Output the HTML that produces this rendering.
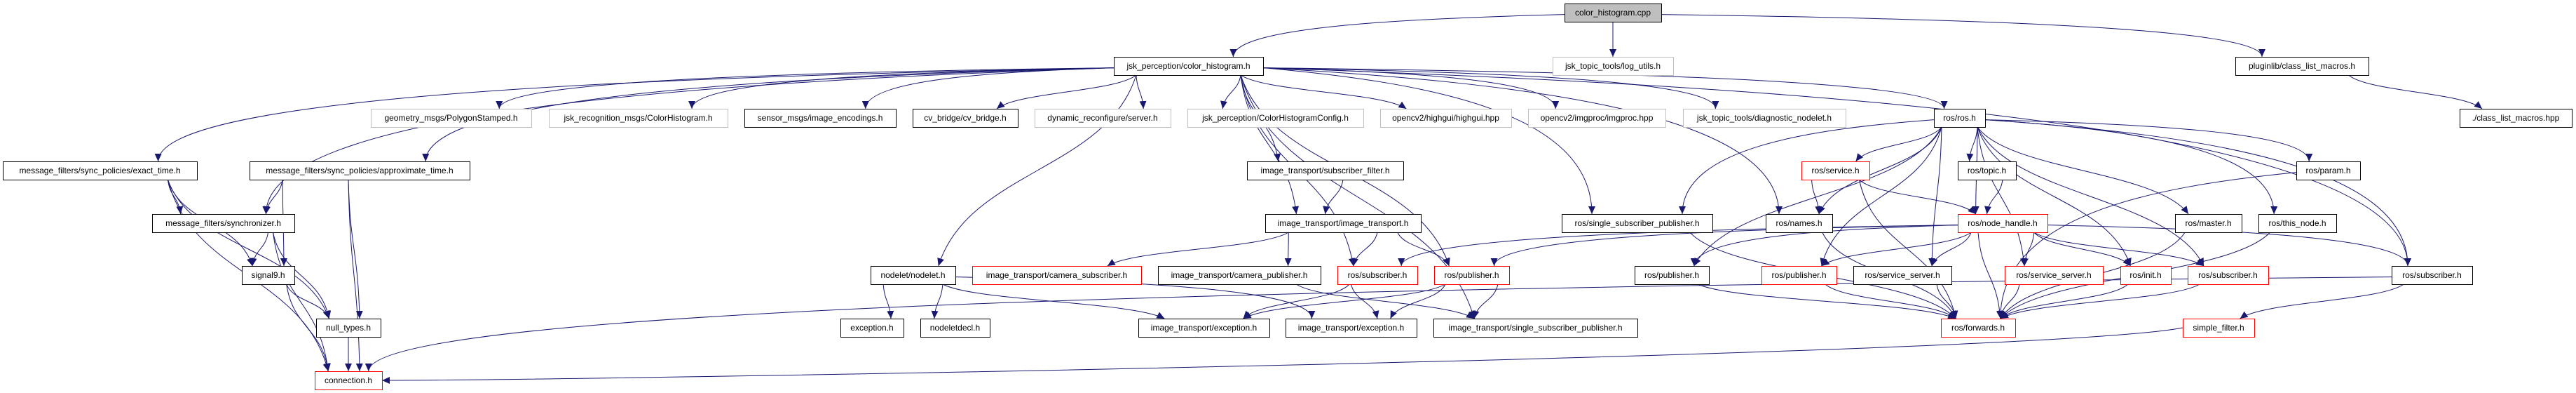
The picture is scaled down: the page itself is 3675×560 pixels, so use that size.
<!DOCTYPE html>
<html><head><meta charset="utf-8">
<style>
html,body{margin:0;padding:0;background:#fff;width:3675px;height:560px;overflow:hidden}
svg{display:block}
text{font-family:"Liberation Sans",sans-serif;font-size:12px;fill:#000}
</style></head>
<body>
<svg id="g" width="3675" height="560" viewBox="0 0 3675 560" xmlns="http://www.w3.org/2000/svg">
<defs>
<marker id="a" markerUnits="userSpaceOnUse" markerWidth="12" markerHeight="10" refX="11" refY="5" orient="auto">
<path d="M0,0 L11,5 L0,10 z" fill="#191970"/>
</marker>
</defs>
<g id="edges" fill="none" stroke="#191970" stroke-width="1"></g>
<g id="nodes"></g>
</svg>
<script>
var rowY=[5,81,155,230,305,379,454,529],H=26;
var N={
cpp:[2232,2370,0,3,"color_histogram.cpp"],
ch:[1589,1802,1,0,"jsk_perception/color_histogram.h"],
log:[2215,2387,1,1,"jsk_topic_tools/log_utils.h"],
plug:[3189,3379,1,0,"pluginlib/class_list_macros.h"],
clm:[3509,3669,2,0,"./class_list_macros.hpp"],
poly:[529,758,2,1,"geometry_msgs/PolygonStamped.h"],
jch:[783,1038,2,1,"jsk_recognition_msgs/ColorHistogram.h"],
enc:[1062,1278,2,0,"sensor_msgs/image_encodings.h"],
cvb:[1302,1452,2,0,"cv_bridge/cv_bridge.h"],
dyn:[1476,1670,2,1,"dynamic_reconfigure/server.h"],
cfg:[1694,1945,2,1,"jsk_perception/ColorHistogramConfig.h"],
hg:[1969,2156,2,1,"opencv2/highgui/highgui.hpp"],
ip:[2180,2376,2,1,"opencv2/imgproc/imgproc.hpp"],
dn:[2401,2633,2,1,"jsk_topic_tools/diagnostic_nodelet.h"],
ros:[2759,2832,2,0,"ros/ros.h"],
ex:[4,281,3,0,"message_filters/sync_policies/exact_time.h"],
ap:[356,670,3,0,"message_filters/sync_policies/approximate_time.h"],
sf:[1779,2002,3,0,"image_transport/subscriber_filter.h"],
srv:[2570,2667,3,2,"ros/service.h"],
top:[2793,2876,3,0,"ros/topic.h"],
par:[3276,3367,3,0,"ros/param.h"],
syn:[217,420,4,0,"message_filters/synchronizer.h"],
it:[1805,2027,4,0,"image_transport/image_transport.h"],
rssp:[2228,2443,4,0,"ros/single_subscriber_publisher.h"],
nam:[2519,2614,4,0,"ros/names.h"],
nh:[2793,2921,4,2,"ros/node_handle.h"],
mas:[3103,3198,4,0,"ros/master.h"],
thn:[3222,3333,4,0,"ros/this_node.h"],
sig:[345,420,5,0,"signal9.h"],
nod:[1242,1363,5,0,"nodelet/nodelet.h"],
cs:[1387,1628,5,2,"image_transport/camera_subscriber.h"],
cp:[1652,1884,5,0,"image_transport/camera_publisher.h"],
rsubr:[1908,2022,5,2,"ros/subscriber.h"],
rpubr:[2046,2153,5,2,"ros/publisher.h"],
rpubb:[2332,2438,5,0,"ros/publisher.h"],
rpubr2:[2513,2620,5,2,"ros/publisher.h"],
ssb:[2644,2784,5,0,"ros/service_server.h"],
ssr:[2860,3000,5,2,"ros/service_server.h"],
ini:[3025,3097,5,2,"ros/init.h"],
rsubr2:[3121,3236,5,2,"ros/subscriber.h"],
rsubb:[3412,3527,5,0,"ros/subscriber.h"],
nul:[451,543,6,0,"null_types.h"],
exc:[1199,1289,6,0,"exception.h"],
ndd:[1313,1412,6,0,"nodeletdecl.h"],
ite1:[1624,1811,6,0,"image_transport/exception.h"],
ite2:[1834,2021,6,0,"image_transport/exception.h"],
itssp:[2045,2336,6,0,"image_transport/single_subscriber_publisher.h"],
fwd:[2769,2875,6,2,"ros/forwards.h"],
sfil:[3114,3216,6,2,"simple_filter.h"],
con:[449,545,7,2,"connection.h"]
};
var E=[
"cpp ch","cpp log","cpp plug","plug clm",
"ch ex","ch ap","ch syn","ch poly","ch jch","ch enc","ch cvb","ch dyn","ch cfg","ch hg","ch ip","ch dn","ch ros","ch nod","ch sf","ch it","ch rsubr","ch rpubr","ch rssp","ch nam","ch rsubb","ch itssp",
"ex syn","ex sig","ex nul","ex con","ap syn","ap sig","ap nul","ap con","syn sig","syn nul","syn con","sig nul","sig con","nul con",
"nod exc","nod ndd","nod ite1","nod ite2",
"sf it","it cs","it cp","it rsubr","it rpubr","cp itssp",
"rsubr ite1","rsubr ite2","rpubr ite1","rpubr ite2","rpubr itssp",
"ros srv","ros top","ros nam","ros nh","ros rpubr2","ros ssb","ros ssr","ros ini","ros rsubr2","ros mas","ros thn","ros par","ros rsubb","ros rpubb","ros rssp",
"srv nam","srv nh","srv fwd","top nh",
"nh fwd","nh rpubb","nh rpubr2","nh ssb","nh ssr","nh ini","nh rsubr2","nh rsubb","nh rsubr","nh rpubr",
"nam fwd","rpubb fwd","rpubr2 fwd","ssb fwd","ssr fwd","ini fwd","rsubr2 fwd","mas fwd","thn fwd","par fwd","rssp fwd",
"rsubb sfil","rsubb con","sfil con"
];
var ns="http://www.w3.org/2000/svg";
function el(t,a,p){var e=document.createElementNS(ns,t);for(var k in a)e.setAttribute(k,a[k]);p.appendChild(e);return e;}
var eg=document.getElementById("edges"),ng=document.getElementById("nodes");
function cl(v,a,b){return Math.max(a,Math.min(b,v));}
E.forEach(function(s){
 var p=s.split(" "),a=N[p[0]],b=N[p[1]];
 var ac=(a[0]+a[1])/2,bc=(b[0]+b[1])/2,aw=a[1]-a[0],bw=b[1]-b[0];
 var d;
 if(b[2]==7&&a[2]==6&&a[0]>b[1]){
  var sy=rowY[a[2]]+H/2,ty=rowY[7]+H/2;
  d="M"+a[0]+","+sy+" C"+(a[0]-200)+","+(sy+40)+" "+(b[1]+300)+","+ty+" "+b[1]+","+ty;
 } else if(b[2]>a[2]){
  var h=Math.abs(bc-ac);
  var tx=cl(ac,b[0]+bw*0.2,b[1]-bw*0.2),ty=rowY[b[2]];
  if(h>aw/2+400){
   var left=bc<ac,sx=left?a[0]:a[1],sy=rowY[a[2]]+H*0.6;
   var dx=tx-sx,dy=ty-sy;
   d="M"+sx+","+sy+" C"+(sx+dx*0.5)+","+(sy+dy*0.1)+" "+tx+","+(ty-dy*0.7)+" "+tx+","+ty;
  } else {
   var sx=cl(bc,a[0]+aw*0.15,a[1]-aw*0.15),sy=rowY[a[2]]+H;
   var dy=ty-sy;
   d="M"+sx+","+sy+" C"+(sx+(tx-sx)*0.15)+","+(sy+dy*0.5)+" "+(tx-(tx-sx)*0.15)+","+(ty-dy*0.5)+" "+tx+","+ty;
  }
 } else {
  var sy=rowY[a[2]]+H/2;
  d="M"+a[0]+","+sy+" L"+b[1]+","+sy;
 }
 el("path",{d:d,"marker-end":"url(#a)"},eg);
});
for(var k in N){
 var n=N[k],st=n[3];
 var stroke=st==1?"#bfbfbf":(st==2?"#ff0000":"#000"),fill=st==3?"#bfbfbf":"#fff";
 el("rect",{x:n[0]+0.5,y:rowY[n[2]]+0.5,width:n[1]-n[0],height:H,fill:fill,stroke:stroke,"stroke-width":1},ng);
 var t=el("text",{x:(n[0]+n[1])/2,y:rowY[n[2]]+17,"text-anchor":"middle"},ng);
 t.textContent=n[4];
}
</script>
</body></html>
